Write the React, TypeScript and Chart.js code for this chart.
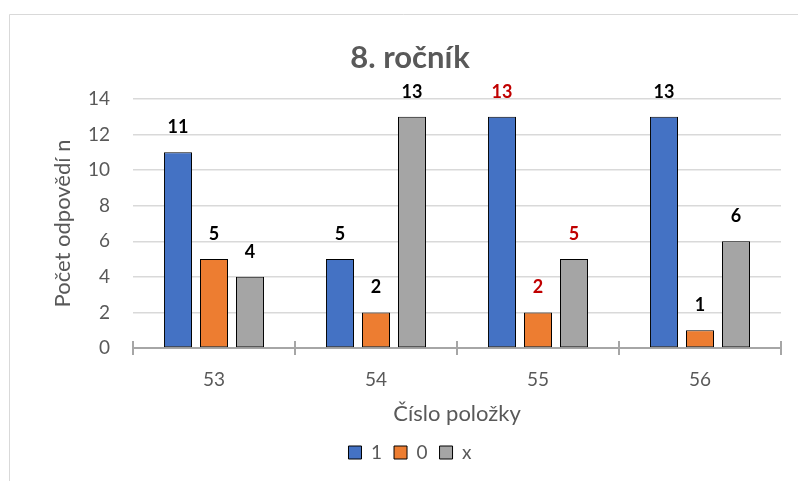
import React, { useEffect, useRef } from "react";
import { Chart, registerables } from "chart.js";

Chart.register(...registerables);

const categories = ["53", "54", "55", "56"];
const seriesLabels = ["1", "0", "x"];
const series1 = [11, 5, 13, 13];
const series0 = [5, 2, 2, 1];
const seriesX = [4, 13, 5, 6];
const seriesColors = ["#4472C4", "#ED7D31", "#A5A5A5"];
const highlightCategory = "55";
const titleText = "8. ročník";
const yTitle = "Počet odpovědí n";
const xTitle = "Číslo položky";
const yMin = 0;
const yMax = 14;
const yStep = 2;

const FONT = "Lato, Carlito, Calibri, 'Liberation Sans', sans-serif";
const TEXT = "#595959";

const framePlugin = {
  id: "frame",
  beforeDraw(chart: any) {
    const { ctx, width, height } = chart;
    ctx.save();
    ctx.fillStyle = "#ffffff";
    ctx.fillRect(0, 0, width, height);
    ctx.strokeStyle = "#d9d9d9";
    ctx.lineWidth = 1;
    ctx.beginPath();
    ctx.moveTo(9.5, height);
    ctx.lineTo(9.5, 14.5);
    ctx.lineTo(width, 14.5);
    ctx.stroke();
    ctx.restore();
  },
};

const crossTicksPlugin = {
  id: "crossTicks",
  afterDraw(chart: any) {
    const { ctx, chartArea } = chart;
    const n = categories.length;
    ctx.save();
    ctx.strokeStyle = "#a6a6a6";
    ctx.lineWidth = 2;
    for (let i = 0; i <= n; i++) {
      const x = chartArea.left + ((chartArea.right - chartArea.left) * i) / n;
      ctx.beginPath();
      ctx.moveTo(x, chartArea.bottom - 7);
      ctx.lineTo(x, chartArea.bottom);
      ctx.stroke();
    }
    ctx.restore();
  },
};

const dataLabelPlugin = {
  id: "dataLabels",
  afterDatasetsDraw(chart: any) {
    const { ctx } = chart;
    ctx.save();
    ctx.font = `bold 18px ${FONT}`;
    ctx.textAlign = "center";
    ctx.textBaseline = "alphabetic";
    chart.data.datasets.forEach((ds: any, di: number) => {
      const meta = chart.getDatasetMeta(di);
      meta.data.forEach((bar: any, i: number) => {
        const v = ds.data[i];
        ctx.fillStyle = categories[i] === highlightCategory ? "#C00000" : "#000000";
        ctx.fillText(String(v), bar.x, bar.y - 19);
      });
    });
    ctx.restore();
  },
};

export default function App() {
  const ref = useRef<HTMLCanvasElement | null>(null);

  useEffect(() => {
    if (!ref.current) return;
    const chart = new Chart(ref.current, {
      type: "bar",
      data: {
        labels: categories,
        datasets: [series1, series0, seriesX].map((d, i) => ({
          label: seriesLabels[i],
          data: d,
          backgroundColor: seriesColors[i],
          borderColor: "#000000",
          borderWidth: 1,
          borderSkipped: false,
          categoryPercentage: 0.667,
          barPercentage: 0.778,
        })),
      },
      options: {
        responsive: false,
        animation: false,
        layout: { padding: { left: 39, right: 17, top: 0, bottom: 9 } },
        plugins: {
          title: {
            display: true,
            text: titleText,
            color: TEXT,
            font: { family: FONT, size: 31, weight: "bold" },
            padding: { top: 39.4, bottom: 22.4 },
          },
          legend: {
            display: true,
            position: "bottom",
            labels: {
              color: TEXT,
              font: { family: FONT, size: 19 },
              boxWidth: 13,
              boxHeight: 13,
              padding: 12,
            },
          },
          tooltip: { enabled: false },
        },
        scales: {
          x: {
            grid: {
              display: true,
              drawOnChartArea: false,
              drawTicks: true,
              tickLength: 7,
              color: "#a6a6a6",
              lineWidth: 2,
            },
            border: { display: true, color: "#a6a6a6", width: 2 },
            ticks: { color: TEXT, font: { family: FONT, size: 19 }, padding: 13 },
            title: {
              display: true,
              text: xTitle,
              color: TEXT,
              font: { family: FONT, size: 22 },
              padding: { top: 0, bottom: 3.8 },
            },
            afterFit(scale: any) {
              scale.height = 83;
            },
          },
          y: {
            min: yMin,
            max: yMax,
            ticks: { stepSize: yStep, color: TEXT, font: { family: FONT, size: 19 }, padding: 23 },
            grid: { color: "#d9d9d9", lineWidth: 1.5, drawTicks: false },
            border: { display: false },
            title: {
              display: true,
              text: yTitle,
              color: TEXT,
              font: { family: FONT, size: 22 },
              padding: { top: 10.8, bottom: 0 },
            },
            afterFit(scale: any) {
              scale.width = 94;
            },
          },
        },
      },
      plugins: [framePlugin, crossTicksPlugin, dataLabelPlugin],
    } as any);
    return () => chart.destroy();
  }, []);

  return (
    <div style={{ position: "absolute", left: 0, top: 0, width: 798, height: 481 }}>
      <canvas ref={ref} width={798} height={481} style={{ display: "block" }} />
    </div>
  );
}
